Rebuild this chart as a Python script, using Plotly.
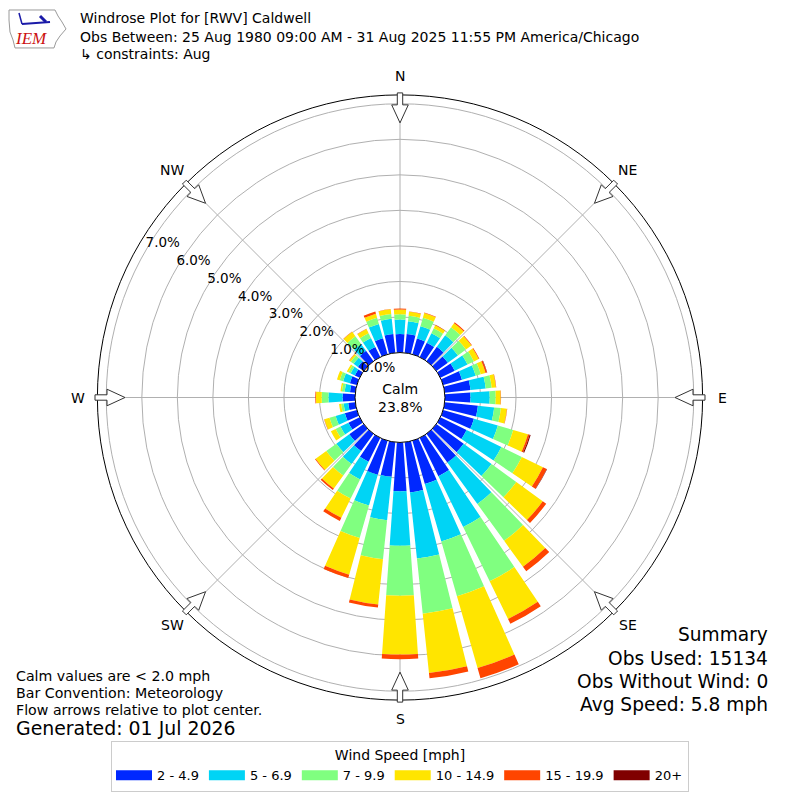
import math
import plotly.graph_objects as go

# Les données : directions (degrés) et fréquences (%) par classe de vitesse
directions = list(range(0, 360, 10))
bins = ["2 - 4.9", "5 - 6.9", "7 - 9.9", "10 - 14.9", "15 - 19.9", "20+"]
colors = ["#0028ff", "#00d4f5", "#80ff80", "#ffe500", "#ff4500", "#800000"]

spd_2_5 = [0.52, 0.53, 0.46, 0.45, 0.50, 0.40, 0.45, 0.55, 0.73, 0.72, 0.94, 0.90,
           0.82, 0.95, 1.00, 1.20, 1.27, 1.42, 1.37, 0.98, 1.00, 0.75, 0.60, 0.50,
           0.35, 0.35, 0.20, 0.35, 0.15, 0.20, 0.15, 0.20, 0.36, 0.32, 0.47, 0.53]
spd_5_7 = [0.41, 0.36, 0.36, 0.30, 0.40, 0.35, 0.40, 0.40, 0.43, 0.54, 0.46, 0.70,
           1.09, 0.97, 1.44, 1.59, 1.68, 1.87, 1.54, 1.23, 0.90, 0.55, 0.45, 0.45,
           0.25, 0.27, 0.13, 0.40, 0.15, 0.20, 0.13, 0.15, 0.24, 0.28, 0.42, 0.43]
spd_7_10 = [0.15, 0.16, 0.25, 0.15, 0.28, 0.28, 0.20, 0.15, 0.17, 0.17, 0.19, 0.45,
            0.64, 0.86, 1.28, 1.70, 1.60, 1.56, 1.40, 1.10, 0.95, 0.60, 0.40, 0.35,
            0.15, 0.18, 0.07, 0.19, 0.08, 0.10, 0.07, 0.10, 0.27, 0.15, 0.18, 0.14]
spd_10_15 = [0.13, 0.11, 0.14, 0.10, 0.14, 0.19, 0.15, 0.14, 0.12, 0.14, 0.17, 0.43,
             0.66, 0.92, 0.90, 1.18, 2.10, 1.68, 1.66, 1.28, 1.07, 0.60, 0.45, 0.37,
             0.15, 0.15, 0.06, 0.16, 0.04, 0.08, 0.05, 0.05, 0.15, 0.13, 0.12, 0.13]
spd_15_20 = [0.03, 0.01, 0.01, 0.01, 0.03, 0.02, 0.02, 0.04, 0.01, 0.01, 0.01, 0.05,
             0.12, 0.12, 0.16, 0.15, 0.30, 0.15, 0.13, 0.09, 0.10, 0.10, 0.05, 0.02,
             0.00, 0.01, 0.00, 0.02, 0.00, 0.00, 0.00, 0.01, 0.01, 0.01, 0.06, 0.01]
spd_20p = [0.00, 0.00, 0.00, 0.00, 0.00, 0.00, 0.00, 0.01, 0.00, 0.00, 0.00, 0.03,
           0.01, 0.00, 0.00, 0.00, 0.00, 0.00, 0.00, 0.00, 0.00, 0.00, 0.00, 0.00,
           0.00, 0.00, 0.00, 0.00, 0.00, 0.00, 0.00, 0.00, 0.00, 0.00, 0.00, 0.00]
series = [spd_2_5, spd_5_7, spd_7_10, spd_10_15, spd_15_20, spd_20p]

calm_pct = 23.8
rings = [0, 1, 2, 3, 4, 5, 6, 7]
ring_labels = ["0.0%", "1.0%", "2.0%", "3.0%", "4.0%", "5.0%", "6.0%", "7.0%"]
label_dir = 300
compass = ["N", "NE", "E", "SE", "S", "SW", "W", "NW"]

# géométrie : coordonnées de la capture 800x800 ; la page html ajoute 8 px de marge
OFF = 8
FIG = 800 - 2 * OFF
CX, CY, R_OUT, R_HOLE = 400, 398, 303, 45
FONT = "DejaVu Sans"


def px(x):
    return (x - OFF) / FIG


def py(y):
    return 1 - (y - OFF) / FIG


fig = go.Figure()
for name, vals, col in zip(bins, series, colors):
    fig.add_trace(go.Barpolar(
        r=vals, theta=directions, width=8, name=name, legendgroup=name,
        showlegend=False, marker=dict(color=col, line=dict(width=0)),
    ))
    # entrée de légende en bande (30 x 10 px)
    fig.add_trace(go.Scatterpolar(
        r=[None], theta=[None], mode="lines", name=name, legendgroup=name,
        line=dict(color=col, width=10), hoverinfo="skip",
    ))

# étiquettes des anneaux
fig.add_trace(go.Scatterpolar(
    r=rings, theta=[label_dir] * len(rings), mode="text", text=ring_labels,
    textposition="top right", showlegend=False, hoverinfo="skip", cliponaxis=False,
    textfont=dict(family=FONT, size=13.5, color="black"),
))

# flèches de la rose (creuses, pointant vers le centre)
shapes = []
annotations = []
for i, lab in enumerate(compass):
    a = math.radians(i * 45)
    s_, c_ = math.sin(a), math.cos(a)
    pts = [(305, -2.7), (293, -2.7), (293, -8.3), (275, 0), (293, 8.3), (293, 2.7), (305, 2.7)]
    path = ""
    for k, (s, t) in enumerate(pts):
        x = CX + s * s_ + t * c_
        y = CY - s * c_ + t * s_
        path += ("M" if k == 0 else "L") + f"{px(x):.5f},{py(y):.5f}"
    path += "Z"
    shapes.append(dict(type="path", path=path, xref="paper", yref="paper",
                       fillcolor="white", line=dict(color="#333333", width=1)))
    annotations.append(dict(x=px(CX + 322 * s_), y=py(CY - 322 * c_), xref="paper", yref="paper",
                            text=lab, showarrow=False, xanchor="center", yanchor="middle",
                            font=dict(family=FONT, size=14, color="black")))

# logo IEM approximatif
iowa = [(9, 10), (55, 10), (58, 16), (62, 22), (66, 29), (60, 36), (56, 42), (54, 48),
        (15, 48), (13, 40), (10, 32), (9, 20)]
path = "".join(("M" if k == 0 else "L") + f"{px(x):.5f},{py(y):.5f}" for k, (x, y) in enumerate(iowa)) + "Z"
shapes.append(dict(type="path", path=path, xref="paper", yref="paper",
                   line=dict(color="#9a9a9a", width=1)))
shapes.append(dict(type="line", xref="paper", yref="paper", x0=px(22), y0=py(24), x1=px(50), y1=py(22),
                   line=dict(color="#1a1aa8", width=2)))
shapes.append(dict(type="line", xref="paper", yref="paper", x0=px(40), y0=py(16), x1=px(46), y1=py(22),
                   line=dict(color="#1a1aa8", width=3)))
shapes.append(dict(type="line", xref="paper", yref="paper", x0=px(19), y0=py(13), x1=px(22), y1=py(24),
                   line=dict(color="#1a1aa8", width=1.5)))
annotations.append(dict(x=px(13), y=py(39), xref="paper", yref="paper", text="<i>IEM</i>",
                        showarrow=False, xanchor="left", yanchor="middle",
                        font=dict(family="Liberation Serif", size=17, color="#cc1111")))

# titres
title_lines = [
    (18, "Windrose Plot for [RWV] Caldwell"),
    (37, "Obs Between: 25 Aug 1980 09:00 AM - 31 Aug 2025 11:55 PM America/Chicago"),
    (54, "\u21b3 constraints: Aug"),
]
for y, txt in title_lines:
    annotations.append(dict(x=px(78), y=py(y), xref="paper", yref="paper", text=txt,
                            showarrow=False, xanchor="left", yanchor="middle",
                            font=dict(family=FONT, size=14, color="black")))

# texte en bas à gauche
left_lines = [
    (677, "Calm values are < 2.0 mph", 14.2),
    (694, "Bar Convention: Meteorology", 14.2),
    (711, "Flow arrows relative to plot center.", 14.2),
    (729, "Generated: 01 Jul 2026", 18.9),
]
for y, txt, sz in left_lines:
    annotations.append(dict(x=px(14), y=py(y), xref="paper", yref="paper", text=txt,
                            showarrow=False, xanchor="left", yanchor="middle",
                            font=dict(family=FONT, size=sz, color="black")))

# résumé en bas à droite
right_lines = [
    (635, "Summary"),
    (659, "Obs Used: 15134"),
    (682, "Obs Without Wind: 0"),
    (705, "Avg Speed: 5.8 mph"),
]
for y, txt in right_lines:
    annotations.append(dict(x=px(770), y=py(y), xref="paper", yref="paper", text=txt,
                            showarrow=False, xanchor="right", yanchor="middle",
                            font=dict(family=FONT, size=18.6, color="black")))

# calme au centre
annotations.append(dict(x=px(CX), y=py(CY), xref="paper", yref="paper",
                        text=f"Calm<br>{calm_pct:.1f}%", showarrow=False,
                        xanchor="center", yanchor="middle",
                        font=dict(family=FONT, size=14, color="black")))

fig.update_layout(
    width=FIG, height=FIG,
    margin=dict(l=0, r=0, t=0, b=0),
    paper_bgcolor="white",
    font=dict(family=FONT, size=13, color="black"),
    polar=dict(
        domain=dict(x=[px(CX - R_OUT), px(CX + R_OUT)], y=[py(CY + R_OUT), py(CY - R_OUT)]),
        hole=R_HOLE / R_OUT,
        bgcolor="white",
        barmode="stack",
        angularaxis=dict(rotation=90, direction="clockwise",
                         tickvals=[0, 45, 90, 135, 180, 225, 270, 315],
                         showticklabels=False, ticks="",
                         showgrid=True, gridcolor="#b0b0b0", gridwidth=1,
                         showline=True, linecolor="black", linewidth=1,
                         layer="above traces"),
        radialaxis=dict(range=[0, 7.25], tickvals=rings, showticklabels=False,
                        angle=150, showline=False, ticks="",
                        showgrid=True, gridcolor="#b0b0b0", gridwidth=1,
                        layer="above traces"),
    ),
    legend=dict(orientation="h", x=0.5, xanchor="center", y=py(742), yanchor="top",
                bordercolor="#cccccc", borderwidth=1, bgcolor="white",
                itemwidth=36,
                title=dict(text="Wind Speed [mph]", side="top center",
                           font=dict(family=FONT, size=14)),
                font=dict(family=FONT, size=13)),
    shapes=shapes,
    annotations=annotations,
)

fig.write_html("out.html")
